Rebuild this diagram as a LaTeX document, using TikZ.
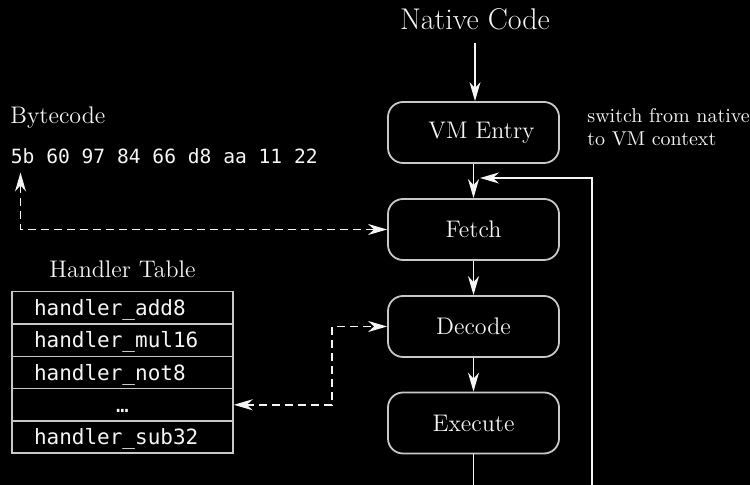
\documentclass[tikz,border=0pt]{standalone}
\usepackage{fontspec}
\newfontfamily\hexfont{DejaVu Sans Mono}
\usetikzlibrary{arrows.meta}
\definecolor{fg}{RGB}{245,245,245}
\definecolor{boxgray}{RGB}{200,200,200}
\begin{document}
\begin{tikzpicture}[x=0.5pt,y=-0.5pt,
  stagebox/.style={draw=boxgray, line width=0.9pt, rounded corners=7.5pt,
    minimum width=85.5pt, minimum height=30.5pt, inner sep=0pt,
    text=fg, font=\fontsize{12}{14}\selectfont},
  arr/.style={-{Stealth[length=9.5pt,width=5.5pt,inset=3pt]}, draw=fg, line width=0.75pt},
  dasharr/.style={{Stealth[length=9.5pt,width=5.5pt,inset=3pt]}-{Stealth[length=9.5pt,width=5.5pt,inset=3pt]},
    draw=fg, line width=0.75pt, dash pattern=on 4pt off 2.5pt},
  rowbox/.style={draw=boxgray, line width=0.75pt, minimum width=110.5pt, minimum height=16.15pt,
    inner xsep=11pt, inner ysep=0pt, text width=88.5pt, text height=9pt, text depth=1.2pt,
    align=left, text=fg, font=\hexfont\fontsize{10.5}{12}\selectfont},
  lbl/.style={text=fg, inner sep=0pt, font=\fontsize{12}{14}\selectfont}
]
\useasboundingbox (0,0) rectangle (750,485);
\fill[black] (0,0) rectangle (750,485);
\clip (0,0) rectangle (750,485);

% main pipeline
\node[text=fg, inner xsep=0pt, inner ysep=6.3pt, font=\fontsize{15}{18}\selectfont] (native) at (475,19) {Native Code};
\node[stagebox] (vm) at (473.5,132.5) {\hspace*{8pt}VM Entry};
\node[stagebox] (fetch) at (473.5,229.5) {Fetch};
\node[stagebox] (dec) at (473.5,326.5) {Decode};
\node[stagebox] (exe) at (473.5,423) {Execute};

\node[anchor=north west, inner sep=0pt, align=left, text=fg,
  font=\fontsize{10}{11.5}\selectfont] (note) at (587,107.8) {switch from native\\to VM context};

\draw[arr] (native.south) -- (native.south |- vm.north);
\draw[arr] (vm) -- (fetch);
\draw[arr] (fetch) -- (dec);
\draw[arr] (dec) -- (exe);

\coordinate (lb) at (592,500);
\coordinate (loopend) at (480,178);
\draw[arr] (exe.south) |- (lb) |- (loopend);

% bytecode
\node[lbl, anchor=base west] (bclabel) at (10,123.3) {Bytecode};
\node[anchor=base west, inner sep=0pt, text=fg, font=\hexfont\fontsize{9.8}{12}\selectfont] (bytes) at (10.5,164) {5b 60 97 84 66 d8 aa 11 22};
\coordinate (bcup) at (20.5,172.5);
\draw[dasharr] (bcup) |- (fetch.west);

% handler table
\node[lbl, anchor=base] (htlabel) at (122.5,277.3) {Handler Table};
\node[rowbox] (r1) at (122.5,307.9) {handler\_add8};
\node[rowbox] (r2) at (122.5,340.2) {handler\_mul16};
\node[rowbox] (r3) at (122.5,372.5) {handler\_not8};
\node[rowbox, align=center] (r4) at (122.5,404.8) {…};
\node[rowbox] (r5) at (122.5,437.1) {handler\_sub32};

\coordinate (hb) at (332,326.5);
\draw[dasharr] (r4.east) -| (hb) -- (dec.west);
\end{tikzpicture}
\end{document}
